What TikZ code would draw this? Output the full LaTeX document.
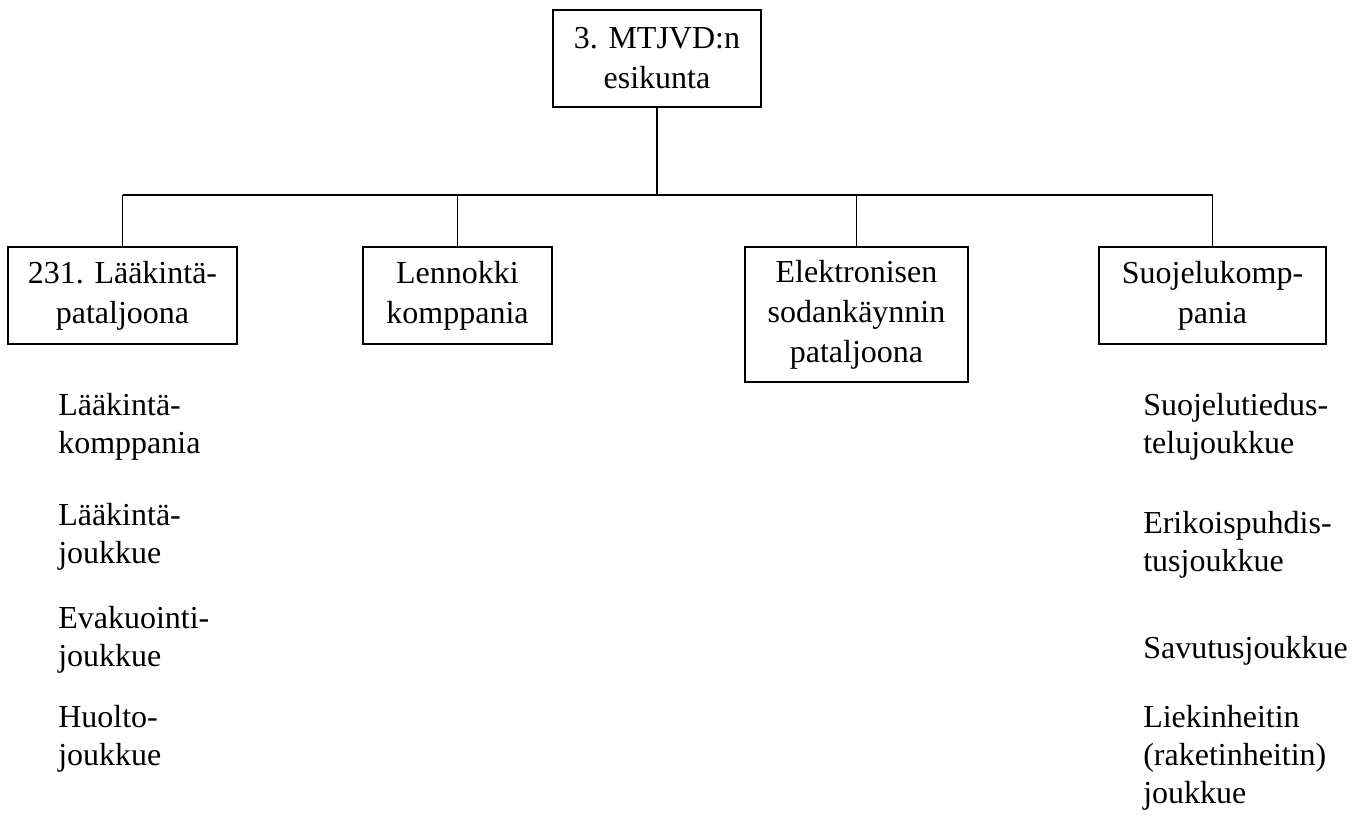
\documentclass[tikz,border=0pt]{standalone}
\usepackage{fontspec}
\setmainfont{Liberation Serif}
\usepackage{tikz}
\usetikzlibrary{positioning, calc}
\usepackage{xcolor}
\definecolor{ink}{RGB}{0,0,0}

\begin{document}
\begin{tikzpicture}[x=0.75pt, y=-0.75pt,
        unit/.style={draw=ink, line width=1.1pt, inner sep=0pt, align=center,
            font=\fontsize{24pt}{30pt}\selectfont, minimum height=72.75pt},
        sub/.style={anchor=base west, inner sep=0pt, align=left, text width=190pt,
            font=\fontsize{24pt}{28.5pt}\selectfont},
        link/.style={draw=ink, line width=1.1pt}]
        \useasboundingbox (0,0) rectangle (1370,817);
        \node[unit, minimum width=156pt] (esikunta) at (657,58.5) {3. MTJVD:n\\esikunta};
        \node[unit, minimum width=171.75pt] (laakinta) at (122.5,295.5) {231. Lääkintä-\\pataljoona};
        \node[unit, minimum width=141.75pt] (lennokki) at (457.5,295.5) {Lennokki\\komppania};
        \node[unit, minimum width=167.25pt, minimum height=101.25pt] (elso) at (856.5,314.5) {Elektronisen\\sodankäynnin\\pataljoona};
        \node[unit, minimum width=170.25pt] (suojelu) at (1212.5,295.5) {Suojelukomp-\\pania};
        \coordinate (bar) at (0,195);
        \draw[link] (esikunta.south) -- (esikunta.south |- bar);
        \draw[link] (laakinta.north |- bar) -- (suojelu.north |- bar);
        \foreach \n in {laakinta,lennokki,elso,suojelu}
            \draw[link] (\n.north) -- (\n.north |- bar);
        \node[sub] (lk1) at (58,415) {Lääkintä-\\komppania};
        \node[sub] (lk2) at (58,525) {Lääkintä-\\joukkue};
        \node[sub] (lk3) at (58,628) {Evakuointi-\\joukkue};
        \node[sub] (lk4) at (58,727) {Huolto-\\joukkue};
        \node[sub] (sk1) at (1143,415) {Suojelutiedus-\\telujoukkue};
        \node[sub] (sk2) at (1143,533) {Erikoispuhdis-\\tusjoukkue};
        \node[sub] (sk3) at (1143,658) {Savutusjoukkue};
        \node[sub] (sk4) at (1143,727) {Liekinheitin\\(raketinheitin)\\joukkue};
    \end{tikzpicture}
\end{document}
